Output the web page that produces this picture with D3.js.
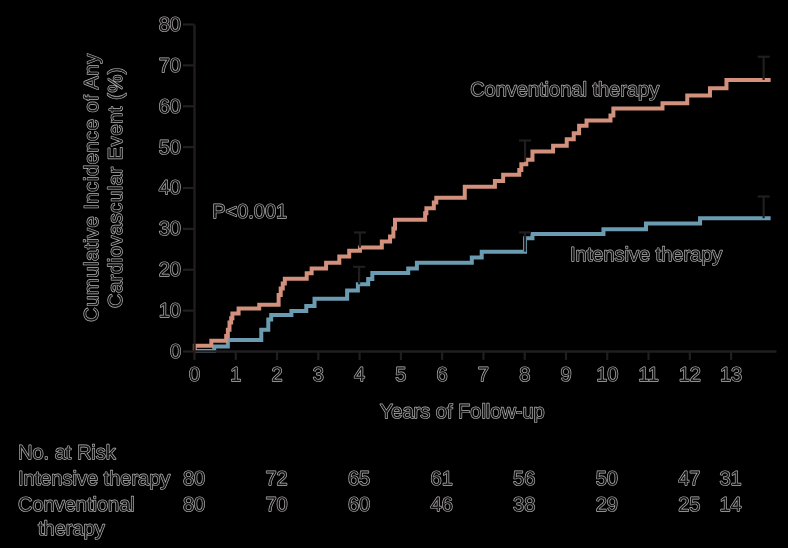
<!DOCTYPE html>
<html><head><meta charset="utf-8">
<script src="https://cdn.jsdelivr.net/npm/d3@7"></script>
<style>html,body{margin:0;background:#000;} svg{display:block;} text{text-rendering:geometricPrecision;}</style>
</head><body><svg id="c" width="788" height="548" style="will-change:transform"></svg>
<script>
// ---- data ----
const yearTicks = [0,1,2,3,4,5,6,7,8,9,10,11,12,13];
const pctTicks = [0,10,20,30,40,50,60,70,80];
const seriesNames = ["Intensive therapy", "Conventional therapy"];
// step points: [year, cumulative incidence %]
const intensiveSteps = [[0,0],[0.49,1.1],[0.82,2.7],[1.63,5.2],[1.8,7.7],[1.87,8.8],[2.36,9.8],[2.72,11.0],[2.92,12.8],[3.71,14.8],[3.97,16.3],[4.22,17.6],[4.32,19.1],[5.19,20.2],[5.4,21.6],[6.73,22.9],[6.97,24.3],[8.02,27.6],[8.2,28.6],[9.92,29.8],[10.95,31.2],[12.26,32.5],[13.97,32.5]];
const conventionalSteps = [[0,0],[0.02,1.3],[0.42,2.5],[0.78,3.7],[0.82,5.2],[0.86,7.0],[0.9,8.0],[0.93,9.2],[1.08,10.4],[1.58,11.3],[2.05,13.7],[2.1,15.3],[2.15,16.5],[2.2,17.7],[2.73,19.0],[2.85,20.2],[3.2,21.6],[3.52,23.1],[3.76,24.5],[4.02,25.3],[4.55,26.8],[4.75,28.0],[4.83,30.0],[4.87,32.1],[5.6,33.7],[5.63,34.9],[5.81,36.3],[5.87,37.5],[6.56,40.2],[7.29,41.6],[7.49,43.1],[7.88,44.3],[7.93,45.7],[8.05,46.8],[8.2,48.8],[8.7,50.2],[9.03,51.8],[9.2,53.3],[9.33,55.1],[9.51,56.4],[10.09,57.6],[10.16,59.3],[11.35,60.6],[11.95,62.5],[12.5,64.3],[12.9,66.3],[13.97,66.3]];
// error bars: [year, value, upper]
const intensiveErr = [[4.0,16.3,20.6],[8.02,24.3,29.0],[13.8,32.5,37.8]];
const conventionalErr = [[4.02,25.3,29.0],[8.02,46.3,51.5],[13.8,66.3,72.0]];
// number at risk
const riskYears = [0,2,4,6,8,10,12,13];
const riskIntensive = [80,72,65,61,56,50,47,31];
const riskConventional = [80,70,60,46,38,29,25,14];

// ---- drawing ----
const svg = d3.select("#c");
const root = svg.append("g").attr("opacity", 0.999);
const FONT = "'Liberation Sans', Arial, sans-serif";
const TEXT_FILL = "#161314", TEXT_STROKE = "#b8b8b8", TEXT_SW = 1.3;
const AXIS = "#231f20";
const colInt = "#6b9cb1", colConv = "#d4917d";

const x = d3.scaleLinear().domain([0, 14.1]).range([194, 776]);
const y = d3.scaleLinear().domain([0, 80]).range([351, 24]);

function styleText(sel){
  return sel.attr("font-family", FONT).attr("font-size", 20)
    .attr("fill", TEXT_FILL).attr("stroke", TEXT_STROKE).attr("stroke-width", TEXT_SW)
    .attr("paint-order", "stroke").attr("stroke-linejoin", "round");
}

const line = d3.line().x(d => x(d[0])).y(d => y(d[1])).curve(d3.curveStepAfter);

root.append("path").datum(intensiveSteps).attr("d", line)
  .attr("fill","none").attr("stroke", colInt).attr("stroke-width", 4).attr("stroke-linejoin","miter");
root.append("path").datum(conventionalSteps).attr("d", line)
  .attr("fill","none").attr("stroke", colConv).attr("stroke-width", 4).attr("stroke-linejoin","miter");

// error bars
const errs = intensiveErr.concat(conventionalErr);
const eb = root.append("g").attr("stroke", AXIS).attr("stroke-width", 2.2);
eb.selectAll("line.v").data(errs).join("line").attr("class","v")
  .attr("x1", d => x(d[0])).attr("x2", d => x(d[0]))
  .attr("y1", d => y(d[1])).attr("y2", d => y(d[2]));
eb.selectAll("line.c").data(errs).join("line").attr("class","c")
  .attr("x1", d => x(d[0]) - 6).attr("x2", d => x(d[0]) + 6)
  .attr("y1", d => y(d[2])).attr("y2", d => y(d[2]));

// axes
const gx = root.append("g").attr("transform", `translate(0,${y(0)})`)
  .call(d3.axisBottom(x).tickValues(yearTicks).tickSize(9).tickSizeOuter(0).tickPadding(7).tickFormat(d3.format("d")));
const gy = root.append("g").attr("transform", `translate(${x(0)},0)`)
  .call(d3.axisLeft(y).tickValues(pctTicks).tickSize(11).tickSizeOuter(0).tickPadding(2));
[gx, gy].forEach(g => {
  g.select(".domain").attr("stroke", AXIS).attr("stroke-width", 2.4);
  g.selectAll(".tick line").attr("stroke", AXIS).attr("stroke-width", 2.2);
  g.selectAll(".tick text").call(styleText);
});

// axis titles
styleText(root.append("text")).attr("x", (x(0)+x(13))/2).attr("y", 418)
  .attr("text-anchor","middle").text("Years of Follow-up");
const yt = root.append("g").attr("transform", `translate(0,${(y(0)+y(80))/2}) rotate(-90)`);
styleText(yt.append("text")).attr("x",0).attr("y",98).attr("text-anchor","middle")
  .attr("letter-spacing", 0.6).text("Cumulative Incidence of Any");
styleText(yt.append("text")).attr("x",0).attr("y",122).attr("text-anchor","middle")
  .attr("letter-spacing", 0.6).text("Cardiovascular Event (%)");

// in-plot labels
styleText(root.append("text")).attr("x", x(0.44)).attr("y", y(32.6)).text("P<0.001");
styleText(root.append("text")).attr("x", x(6.69)).attr("y", y(62.4)).text(seriesNames[1]);
styleText(root.append("text")).attr("x", x(9.11)).attr("y", y(22)).text(seriesNames[0]);

// number at risk table
styleText(root.append("text")).attr("x", 18).attr("y", 459).text("No. at Risk");
styleText(root.append("text")).attr("x", 18).attr("y", 485).text(seriesNames[0]);
styleText(root.append("text")).attr("x", 18).attr("y", 511).text("Conventional");
styleText(root.append("text")).attr("x", 38).attr("y", 535).text("therapy");
[[riskIntensive, 485], [riskConventional, 511]].forEach(([vals, yy]) => {
  root.append("g").selectAll("text").data(vals).join("text")
    .call(styleText)
    .attr("x", (d,i) => x(riskYears[i])).attr("y", yy).attr("text-anchor","middle")
    .text(d => d);
});
</script></body></html>
